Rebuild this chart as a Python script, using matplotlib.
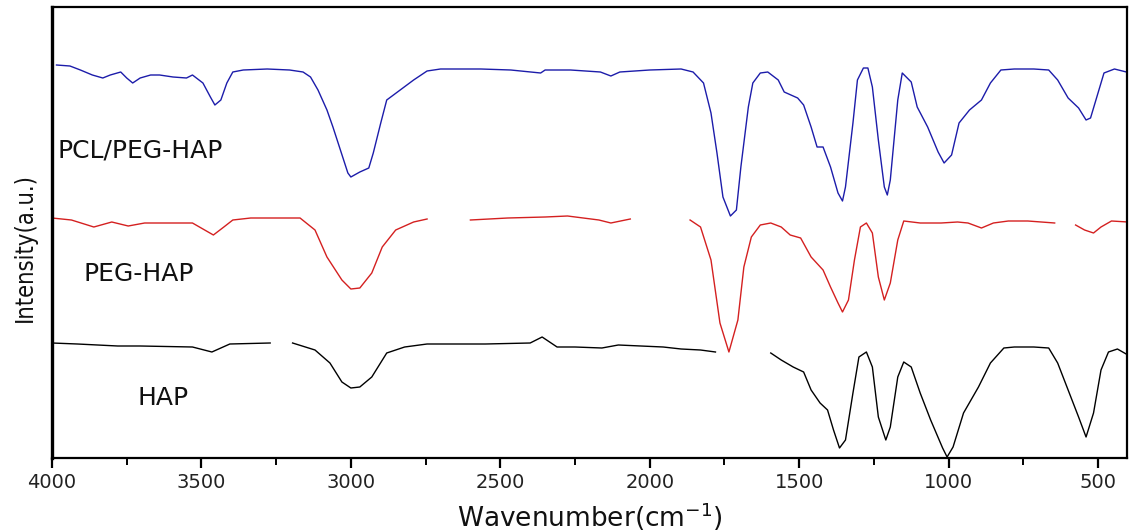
import numpy as np
import matplotlib
matplotlib.use("Agg")
import matplotlib.pyplot as plt

# ---- data (wavenumber in cm^-1, intensity in arbitrary units incl. vertical offset) ----
pcl_wn = [3985, 3940, 3905, 3865, 3830, 3805, 3770, 3750, 3730, 3705, 3670, 3640, 3595, 3550,
          3530, 3495, 3470, 3455, 3435, 3415, 3395, 3360, 3280, 3205, 3160, 3135, 3110, 3080,
          3060, 3035, 3010, 3000, 2970, 2940, 2925, 2900, 2880, 2835, 2790, 2745, 2700, 2565,
          2465, 2365, 2350, 2265, 2165, 2130, 2100, 2000, 1895, 1855, 1820, 1795, 1775, 1755,
          1730, 1710, 1695, 1670, 1655, 1630, 1605, 1570, 1550, 1505, 1485, 1460, 1440, 1420,
          1395, 1370, 1355, 1345, 1320, 1305, 1285, 1270, 1255, 1235, 1215, 1205, 1195, 1170,
          1155, 1125, 1105, 1070, 1035, 1015, 990, 965, 930, 890, 860, 825, 780, 715, 665, 635,
          600, 565, 540, 525, 500, 480, 445, 405]
pcl_int = [393, 392, 388, 383, 380, 383, 386, 380, 375, 380, 383, 383, 381, 380,
           383, 375, 361, 353, 358, 375, 386, 388, 389, 388, 386, 381, 368, 348,
           331, 308, 285, 281, 286, 290, 305, 335, 358, 368, 378, 387, 389, 389,
           388, 385, 388, 388, 386, 382, 386, 388, 389, 386, 375, 345, 305, 261,
           242, 248, 291, 351, 375, 385, 386, 378, 366, 360, 353, 331, 311, 311,
           291, 265, 257, 271, 335, 378, 390, 390, 371, 318, 271, 263, 278, 358,
           385, 376, 351, 331, 306, 295, 303, 335, 348, 358, 375, 388, 389, 389, 388, 378,
           360, 350, 338, 340, 365, 385, 389, 386]

peg_wn = [4000, 3935, 3860, 3800, 3745, 3690, 3630, 3530, 3460, 3425, 3395, 3335, 3170, 3120,
          3080, 3030, 3000, 2970, 2930, 2895, 2850, 2790, 2745, np.nan,
          2600, 2475, 2350, 2275, 2170, 2130, 2065, np.nan,
          1865, 1830, 1795, 1765, 1735, 1705, 1685, 1660, 1630, 1595, 1560, 1530, 1495, 1460,
          1420, 1395, 1370, 1355, 1335, 1315, 1295, 1275, 1255, 1235, 1215, 1195, 1170, 1150,
          1095, 1025, 970, 935, 890, 850, 800, 735, 645, np.nan,
          575, 545, 515, 490, 455, 400]
peg_int = [240, 238, 231, 236, 232, 235, 235, 235, 223, 231, 238, 240, 240, 228,
           201, 178, 169, 170, 185, 211, 228, 236, 239, np.nan,
           238, 240, 241, 242, 238, 235, 239, np.nan,
           238, 231, 198, 135, 106, 138, 191, 221, 233, 235, 231, 223, 220, 201,
           188, 171, 155, 146, 158, 198, 231, 235, 225, 181, 158, 175, 218, 237,
           235, 235, 236, 235, 230, 235, 237, 237, 235, np.nan,
           233, 228, 225, 231, 237, 236]

hap_wn = [4000, 3915, 3780, 3705, 3530, 3465, 3405, 3270, np.nan,
          3195, 3120, 3070, 3030, 3000, 2970, 2930, 2880, 2820, 2745, 2550, 2400, 2360, 2310,
          2250, 2160, 2105, 1955, 1895, 1830, 1780, np.nan,
          1595, 1560, 1520, 1485, 1460, 1430, 1405, 1385, 1365, 1345, 1320, 1300, 1275, 1255,
          1235, 1210, 1195, 1170, 1150, 1125, 1095, 1060, 1020, 1005, 985, 950, 900, 860, 815,
          780, 715, 665, 635, 600, 565, 540, 515, 490, 465, 435, 400]
hap_int = [115, 114, 112, 112, 111, 106, 114, 115, np.nan,
           115, 108, 95, 76, 70, 71, 81, 105, 111, 114, 114, 115, 121, 111,
           111, 110, 113, 111, 109, 108, 106, np.nan,
           105, 98, 91, 86, 68, 55, 48, 28, 10, 18, 65, 101, 106, 91,
           41, 18, 31, 81, 96, 91, 65, 38, 10, 1, 11, 45, 71, 95, 110,
           111, 111, 110, 95, 68, 41, 21, 45, 88, 106, 109, 103]

series_labels = ["PCL/PEG-HAP", "PEG-HAP", "HAP"]
series_colors = ["#1c1caa", "#d42020", "#000000"]
label_pos_wn = [3980, 3895, 3715]
label_pos_int = [308, 184, 60]

x_ticks = [4000, 3500, 3000, 2500, 2000, 1500, 1000, 500]
x_minor = [3750, 3250, 2750, 2250, 1750, 1250, 750]

# ---- figure ----
fig = plt.figure(figsize=(11.29, 5.31), dpi=100)
ax = fig.add_axes([52 / 1129, (531 - 458) / 531, (1127 - 52) / 1129, (458 - 7) / 531])

for wn, val, col in zip([pcl_wn, peg_wn, hap_wn], [pcl_int, peg_int, hap_int], series_colors):
    ax.plot(wn, val, color=col, lw=1.0)

for lab, xw, yi in zip(series_labels, label_pos_wn, label_pos_int):
    ax.text(xw, yi, lab, fontsize=18, family="DejaVu Sans", ha="left", va="center", color="#111111")

ax.set_xlim(4000, 403)
ax.set_ylim(0, 451)
ax.set_xticks(x_ticks)
ax.set_xticks(x_minor, minor=True)
ax.set_xticklabels([str(t) for t in x_ticks], fontsize=14, family="DejaVu Sans", color="#222222")
ax.tick_params(axis="x", which="major", direction="out", length=7, width=1.6, pad=4)
ax.tick_params(axis="x", which="minor", direction="out", length=5, width=1.4)
ax.set_yticks([])

for side, lw in [("left", 2.4), ("bottom", 1.6), ("top", 1.6), ("right", 1.6)]:
    ax.spines[side].set_linewidth(lw)

ax.set_xlabel("Wavenumber(cm$^{-1}$)", fontsize=19, family="DejaVu Sans", color="#111111")
ax.xaxis.set_label_coords(0.5, (458 - 517) / 451)
ax.xaxis.label.set_va("center")

ax.set_ylabel("Intensity(a.u.)", fontsize=17, family="DejaVu Sans", fontstretch="condensed",
              color="#111111")
ax.yaxis.set_label_coords((25 - 52) / 1075, (458 - 248) / 451)
ax.yaxis.label.set_va("center")

fig.savefig("out.png", dpi=100)
